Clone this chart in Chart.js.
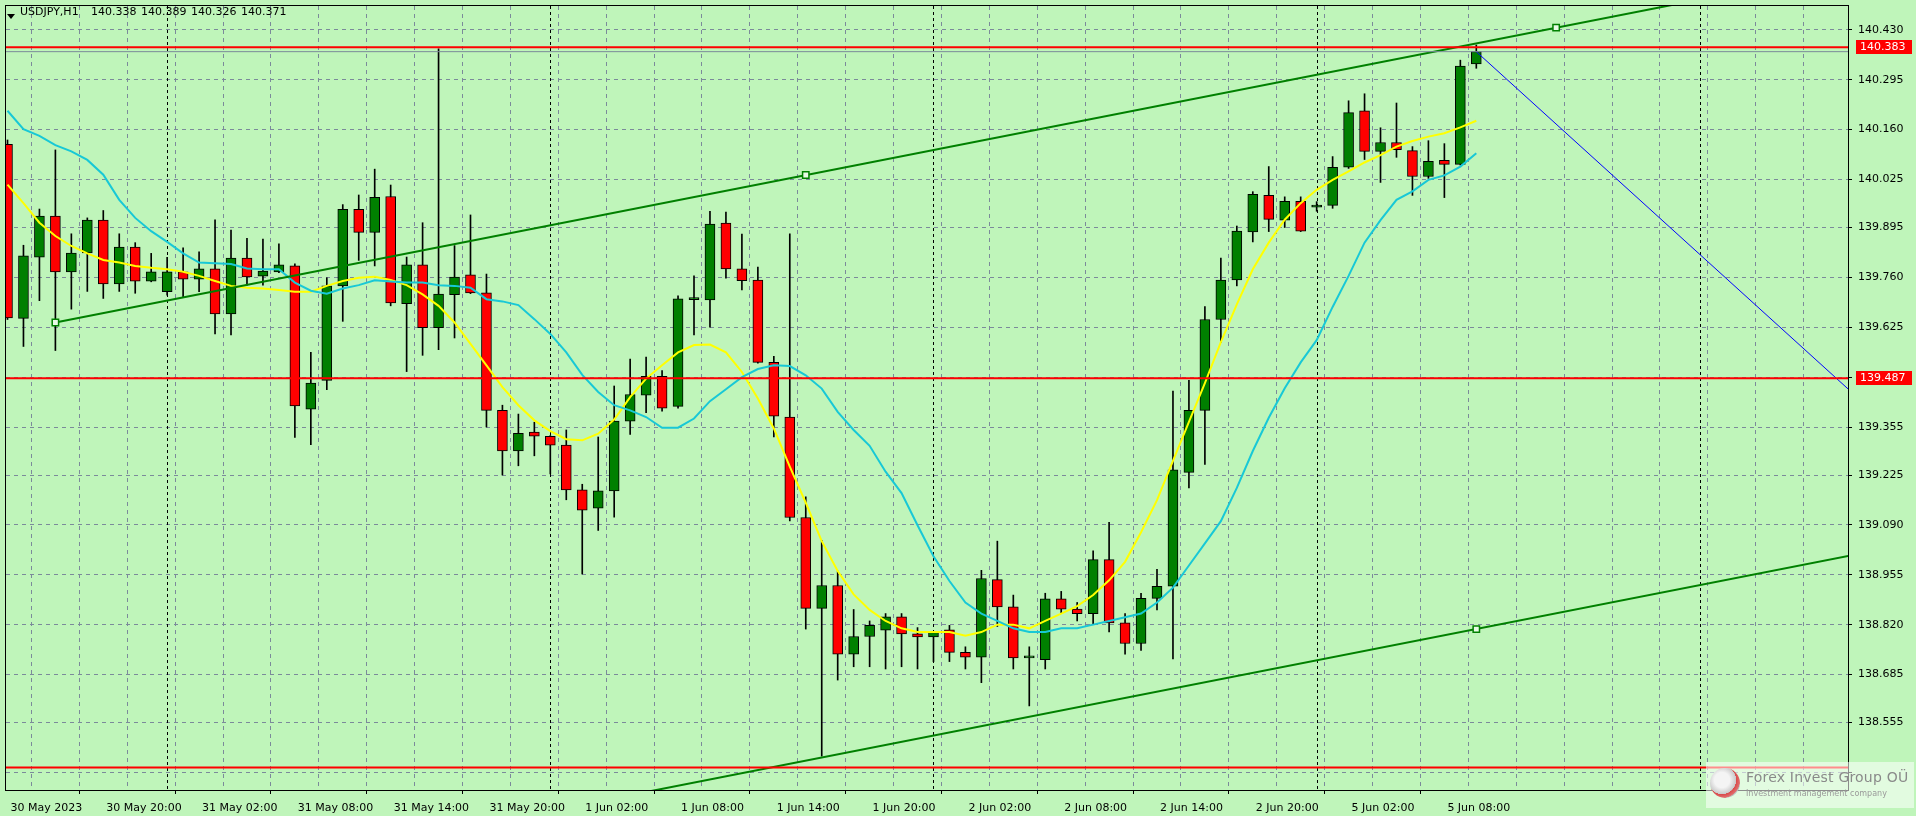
<!DOCTYPE html>
<html>
<head>
<meta charset="utf-8">
<title>USDJPY,H1</title>
<script src="https://cdn.jsdelivr.net/npm/chart.js@4.4.0/dist/chart.umd.min.js"></script>
<style>
    html, body { margin: 0; padding: 0; background: #bff5ba; }
    #wrap { position: relative; width: 1916px; height: 816px; overflow: hidden; background: #bff5ba; }
    #chart { display: block; }
    .title { position: absolute; left: 0; top: 5px; height: 14px; font: 11px "DejaVu Sans", sans-serif; color: #000; }
    .title span { position: absolute; top: 0; white-space: nowrap; }
    .tri { position: absolute; left: 7px; top: 9px; width: 0; height: 0; border-left: 4px solid transparent; border-right: 4px solid transparent; border-top: 5px solid #000; }
    .logo { position: absolute; left: 1706px; top: 762px; width: 208px; height: 46px; background: rgba(255,255,255,0.55); font-family: "DejaVu Sans", sans-serif; }
    .logo .mark { position: absolute; left: 4px; top: 6px; width: 30px; height: 30px; border-radius: 50%; background: radial-gradient(circle at 40% 40%, #f4f4f4 30%, #c9c9c9 55%, #d94a4a 56%, #e07070 70%, #bbbbbb 72%); }
    .logo .name { position: absolute; left: 40px; top: 7px; font-size: 14px; color: #8a8a8a; letter-spacing: 0.2px; white-space: nowrap; }
    .logo .sub { position: absolute; left: 40px; top: 27px; font-size: 8px; color: #9a9a9a; white-space: nowrap; }
</style>
</head>
<body>
<div id="wrap">
    <canvas id="chart" width="1916" height="816"></canvas>
    <div class="title">
        <div class="tri"></div>
        <span style="left:20px">USDJPY,H1</span>
        <span style="left:91px">140.338</span>
        <span style="left:141px">140.389</span>
        <span style="left:191px">140.326</span>
        <span style="left:241px">140.371</span>
    </div>
    <div class="logo">
        <div class="mark"></div>
        <div class="name">Forex Invest Group OÜ</div>
        <div class="sub">Investment management company</div>
    </div>
</div>
<script>
// --- Data (H1 bars, oldest first) ---
const timeLabels = ['30 May 2023', '30 May 20:00', '31 May 02:00', '31 May 08:00', '31 May 14:00', '31 May 20:00',
    '1 Jun 02:00', '1 Jun 08:00', '1 Jun 14:00', '1 Jun 20:00', '2 Jun 02:00', '2 Jun 08:00',
    '2 Jun 14:00', '2 Jun 20:00', '5 Jun 02:00', '5 Jun 08:00'];
const labelEvery = 6;

const opens = [140.120, 139.649, 139.815, 139.926, 139.775, 139.826, 139.915, 139.742, 139.842, 139.750,
    139.721, 139.775, 139.755, 139.783, 139.661, 139.812, 139.763, 139.775, 139.791, 139.403,
    139.481, 139.737, 139.944, 139.882, 139.979, 139.689, 139.794, 139.624, 139.713, 139.767,
    139.718, 139.400, 139.290, 139.341, 139.330, 139.306, 139.185, 139.135, 139.182, 139.371,
    139.441, 139.492, 139.411, 139.700, 139.699, 139.907, 139.783, 139.753, 139.530, 139.382,
    139.110, 138.864, 138.926, 138.740, 138.788, 138.805, 138.841, 138.795, 138.787, 138.806,
    138.745, 138.732, 138.942, 138.868, 138.730, 138.725, 138.890, 138.862, 138.850, 138.996,
    138.825, 138.769, 138.891, 138.924, 139.232, 139.400, 139.646, 139.753, 139.883, 139.982,
    139.915, 139.966, 139.950, 139.955, 140.058, 140.211, 140.101, 140.125, 140.103, 140.033,
    140.077, 140.066, 140.338];
const highs = [140.132, 139.847, 139.945, 140.105, 139.878, 139.921, 139.941, 139.878, 139.854, 139.825,
    139.814, 139.840, 139.829, 139.916, 139.888, 139.866, 139.864, 139.851, 139.797, 139.557,
    139.759, 139.957, 139.983, 140.053, 140.010, 139.815, 139.908, 140.379, 139.846, 139.929,
    139.769, 139.414, 139.390, 139.368, 139.332, 139.347, 139.200, 139.328, 139.466, 139.539,
    139.544, 139.508, 139.710, 139.764, 139.939, 139.937, 139.877, 139.788, 139.546, 139.878,
    139.166, 139.048, 138.965, 138.861, 138.830, 138.850, 138.850, 138.812, 138.800, 138.818,
    138.760, 138.967, 139.046, 138.900, 138.760, 138.905, 138.910, 138.880, 139.020, 139.097,
    138.850, 138.905, 138.970, 139.452, 139.481, 139.681, 139.812, 139.899, 139.992, 140.060,
    139.978, 139.978, 139.965, 140.087, 140.238, 140.257, 140.165, 140.232, 140.114, 140.130,
    140.122, 140.348, 140.389];
const lows = [139.646, 139.573, 139.697, 139.562, 139.674, 139.722, 139.703, 139.722, 139.717, 139.748,
    139.712, 139.706, 139.721, 139.607, 139.604, 139.739, 139.739, 139.773, 139.327, 139.307,
    139.456, 139.641, 139.806, 139.791, 139.683, 139.505, 139.549, 139.564, 139.596, 139.716,
    139.355, 139.225, 139.250, 139.277, 139.228, 139.158, 138.957, 139.075, 139.111, 139.335,
    139.394, 139.398, 139.406, 139.604, 139.625, 139.758, 139.726, 139.528, 139.328, 139.101,
    138.808, 138.464, 138.670, 138.706, 138.706, 138.700, 138.706, 138.700, 138.720, 138.720,
    138.700, 138.663, 138.815, 138.700, 138.600, 138.700, 138.850, 138.830, 138.820, 138.800,
    138.740, 138.750, 138.860, 138.727, 139.190, 139.254, 139.584, 139.737, 139.856, 139.884,
    139.895, 139.884, 139.939, 139.947, 140.055, 140.079, 140.017, 140.085, 139.982, 140.028,
    139.976, 140.064, 140.326];
const closes = [139.650, 139.818, 139.926, 139.775, 139.826, 139.915, 139.742, 139.842, 139.750, 139.775,
    139.775, 139.755, 139.783, 139.661, 139.812, 139.761, 139.777, 139.794, 139.412, 139.474,
    139.737, 139.944, 139.882, 139.977, 139.691, 139.794, 139.624, 139.715, 139.761, 139.718,
    139.400, 139.290, 139.338, 139.330, 139.306, 139.185, 139.130, 139.182, 139.371, 139.443,
    139.492, 139.406, 139.702, 139.702, 139.904, 139.783, 139.751, 139.530, 139.384, 139.110,
    138.864, 138.926, 138.740, 138.788, 138.818, 138.841, 138.795, 138.787, 138.800, 138.745,
    138.732, 138.945, 138.868, 138.730, 138.732, 138.890, 138.862, 138.850, 138.996, 138.825,
    138.769, 138.891, 138.924, 139.239, 139.400, 139.646, 139.753, 139.885, 139.985, 139.917,
    139.966, 139.885, 139.956, 140.058, 140.206, 140.101, 140.125, 140.106, 140.033, 140.074,
    140.066, 140.332, 140.371];

// yellow and turquoise moving averages
const maFast = [140.011, 139.961, 139.908, 139.872, 139.845, 139.825, 139.807, 139.800, 139.791, 139.786,
    139.782, 139.775, 139.764, 139.750, 139.737, 139.732, 139.730, 139.726, 139.721, 139.721,
    139.737, 139.750, 139.759, 139.762, 139.753, 139.739, 139.714, 139.683, 139.638, 139.580,
    139.522, 139.463, 139.414, 139.373, 139.344, 139.322, 139.319, 139.337, 139.375, 139.436,
    139.486, 139.522, 139.557, 139.577, 139.578, 139.557, 139.504, 139.432, 139.351, 139.248,
    139.150, 139.046, 138.965, 138.902, 138.860, 138.830, 138.810, 138.800, 138.800, 138.800,
    138.790, 138.800, 138.820, 138.820, 138.810, 138.830, 138.850, 138.870, 138.900, 138.940,
    138.990, 139.070, 139.157, 139.263, 139.369, 139.474, 139.585, 139.687, 139.782, 139.854,
    139.916, 139.961, 139.997, 140.024, 140.047, 140.071, 140.091, 140.114, 140.129, 140.141,
    140.150, 140.166, 140.184];
const maSlow = [140.211, 140.161, 140.143, 140.118, 140.101, 140.078, 140.038, 139.970, 139.921, 139.885,
    139.856, 139.825, 139.800, 139.798, 139.796, 139.784, 139.782, 139.782, 139.746, 139.724,
    139.716, 139.730, 139.739, 139.752, 139.749, 139.746, 139.746, 139.739, 139.737, 139.732,
    139.701, 139.695, 139.685, 139.647, 139.607, 139.557, 139.496, 139.450, 139.414, 139.400,
    139.382, 139.353, 139.353, 139.378, 139.425, 139.457, 139.490, 139.512, 139.522, 139.520,
    139.495, 139.459, 139.396, 139.347, 139.304, 139.234, 139.176, 139.089, 139.005, 138.938,
    138.880, 138.850, 138.830, 138.810, 138.800, 138.800, 138.810, 138.810, 138.820, 138.830,
    138.840, 138.850, 138.880, 138.920, 138.980, 139.040, 139.100, 139.190, 139.290, 139.380,
    139.460, 139.530, 139.590, 139.680, 139.764, 139.854, 139.915, 139.970, 139.993, 140.024,
    140.036, 140.060, 140.096];

// price scale
const priceTicks = [140.430, 140.295, 140.160, 140.025, 139.895, 139.760, 139.625, 139.490,
    139.355, 139.225, 139.090, 138.955, 138.820, 138.685, 138.555, 138.420];
const priceTickLabels = ['140.430', '140.295', '140.160', '140.025', '139.895', '139.760', '139.625', '',
    '139.355', '139.225', '139.090', '138.955', '138.820', '138.685', '138.555', ''];

// horizontal levels, bid line, day separators
const levelPrices = [140.383, 139.487, 138.433];
const levelLabels = ['140.383', '139.487', ''];
const bidPrice = 140.371;
const daySeparatorBars = [10, 34, 58, 82, 106];

// drawn objects: channel, blue trend line, anchor squares
const channelTopBars = [3, 116];
const channelTopPrices = [139.638, 140.597];
const channelBottomBars = [3, 116];
const channelBottomPrices = [138.053, 139.012];
const blueLineBars = [92, 116];
const blueLinePrices = [140.371, 139.430];
const anchorBars = [3, 50, 97, 92];
const anchorPrices = [139.638, 140.037, 140.436, 138.808];

// --- Colours ---
const GRID = '#7b8a9a';
const BULL = '#008000';
const BEAR = '#ff0000';

// --- Helpers ---
const toPoints = (xs, ys) => xs.map((x, i) => ({ x: x, y: ys[i] }));
const acrossChart = (price) => [{ x: -5, y: price }, { x: 130, y: price }];

const wickData = opens.map((o, i) => ({ x: i, y: [lows[i], highs[i]] }));
const bodyData = opens.map((o, i) => ({ x: i, y: [o, closes[i]] }));
const bodyColors = opens.map((o, i) => closes[i] >= o ? BULL : BEAR);

// --- Plugins ---
const mt4Decor = {
    id: 'mt4Decor',
    beforeDatasetsDraw(chart) {
        const { ctx, chartArea, scales } = chart;
        ctx.save();
        ctx.strokeStyle = '#000';
        ctx.lineWidth = 1;
        ctx.setLineDash([3, 3]);
        daySeparatorBars.forEach(b => {
            const x = Math.round(scales.x.getPixelForValue(b)) + 0.5;
            if (x < chartArea.left || x > chartArea.right) return;
            ctx.beginPath();
            ctx.moveTo(x, chartArea.top);
            ctx.lineTo(x, chartArea.bottom);
            ctx.stroke();
        });
        ctx.restore();
    },
    afterDraw(chart) {
        const { ctx, chartArea, scales } = chart;
        ctx.save();
        // frame
        ctx.strokeStyle = '#000';
        ctx.lineWidth = 1;
        ctx.strokeRect(chartArea.left - 0.5, chartArea.top - 0.5,
            chartArea.right - chartArea.left + 1, chartArea.bottom - chartArea.top + 1);
        // level price tags on the axis
        ctx.font = '11px "DejaVu Sans", sans-serif';
        ctx.textBaseline = 'middle';
        levelPrices.forEach((p, i) => {
            if (!levelLabels[i]) return;
            const y = Math.round(scales.y.getPixelForValue(p));
            ctx.fillStyle = BEAR;
            ctx.fillRect(chartArea.right + 8, y - 7, 56, 14);
            ctx.fillStyle = '#fff';
            ctx.fillText(levelLabels[i], chartArea.right + 12, y + 0.5);
        });
        ctx.restore();
    }
};

// --- Chart ---
const ctx = document.getElementById('chart');

new Chart(ctx, {
    type: 'bar',
    data: {
        datasets: [
            {
                type: 'line', label: 'Bid', data: acrossChart(bidPrice),
                borderColor: GRID, borderWidth: 1, pointRadius: 0, order: 1
            },
            ...levelPrices.map(p => ({
                type: 'line', label: 'Level', data: acrossChart(p),
                borderColor: BEAR, borderWidth: 2, pointRadius: 0, order: 0
            })),
            {
                type: 'line', label: 'Channel top', data: toPoints(channelTopBars, channelTopPrices),
                borderColor: '#008000', borderWidth: 2, pointRadius: 0, order: 2
            },
            {
                type: 'line', label: 'Channel bottom', data: toPoints(channelBottomBars, channelBottomPrices),
                borderColor: '#008000', borderWidth: 2, pointRadius: 0, order: 2
            },
            {
                type: 'line', label: 'Anchors', data: toPoints(anchorBars, anchorPrices),
                showLine: false, pointStyle: 'rect', pointRadius: 4.5, borderWidth: 1.5,
                pointBorderColor: '#008000', pointBackgroundColor: '#e9fbe7', order: 1
            },
            {
                type: 'line', label: 'Trend', data: toPoints(blueLineBars, blueLinePrices),
                borderColor: '#0000ff', borderWidth: 1, pointRadius: 0, order: 2
            },
            {
                type: 'line', label: 'MA slow', data: maSlow.map((v, i) => ({ x: i, y: v })),
                borderColor: '#18c8d6', borderWidth: 2, pointRadius: 0, tension: 0, order: 3
            },
            {
                type: 'line', label: 'MA fast', data: maFast.map((v, i) => ({ x: i, y: v })),
                borderColor: '#ffff00', borderWidth: 2, pointRadius: 0, tension: 0, order: 3
            },
            {
                label: 'Bodies', data: bodyData, backgroundColor: bodyColors,
                borderColor: '#000', borderWidth: 1, borderSkipped: false,
                barThickness: 10, minBarLength: 2, grouped: false, order: 5
            },
            {
                label: 'Wicks', data: wickData, backgroundColor: '#000',
                barThickness: 1, grouped: false, order: 6
            }
        ]
    },
    options: {
        responsive: false,
        animation: false,
        devicePixelRatio: 1,
        events: [],
        layout: { padding: { left: 2, top: 2, right: 0, bottom: 0 } },
        plugins: { legend: { display: false }, tooltip: { enabled: false } },
        scales: {
            x: {
                type: 'linear',
                min: -0.09375,
                max: 115.28125,
                offset: false,
                afterBuildTicks: (scale) => {
                    const ticks = [];
                    for (let v = 0; v <= scale.max; v += 3) ticks.push({ value: v });
                    scale.ticks = ticks;
                },
                afterFit: (scale) => {
                    scale.height = 26;
                    scale.paddingLeft = 0;
                    scale.paddingRight = 0;
                },
                grid: {
                    color: GRID, lineWidth: 1, drawTicks: true, tickLength: 4,
                    tickColor: (c) => (c.tick && c.tick.value % labelEvery === 0 && c.tick.value / labelEvery < timeLabels.length) ? '#000' : 'rgba(0,0,0,0)'
                },
                border: { display: false, dash: [4, 4] },
                ticks: {
                    autoSkip: false, maxRotation: 0, align: 'start', labelOffset: 3, padding: 8,
                    color: '#000', font: { family: 'DejaVu Sans', size: 11 },
                    callback: (v) => (v % labelEvery === 0 && v / labelEvery < timeLabels.length) ? timeLabels[v / labelEvery] : ''
                }
            },
            y: {
                position: 'right',
                min: 138.3724,
                max: 140.4946,
                afterBuildTicks: (scale) => { scale.ticks = priceTicks.map(v => ({ value: v })); },
                afterFit: (scale) => {
                    scale.width = 68;
                    scale.paddingTop = 0;
                    scale.paddingBottom = 0;
                },
                grid: { color: GRID, lineWidth: 1, drawTicks: true, tickLength: 4, tickColor: '#000' },
                border: { display: false, dash: [4, 4] },
                ticks: {
                    padding: 6, color: '#000', font: { family: 'DejaVu Sans', size: 11 },
                    callback: (v, i) => priceTickLabels[i]
                }
            }
        }
    },
    plugins: [mt4Decor]
});
</script>
</body>
</html>
